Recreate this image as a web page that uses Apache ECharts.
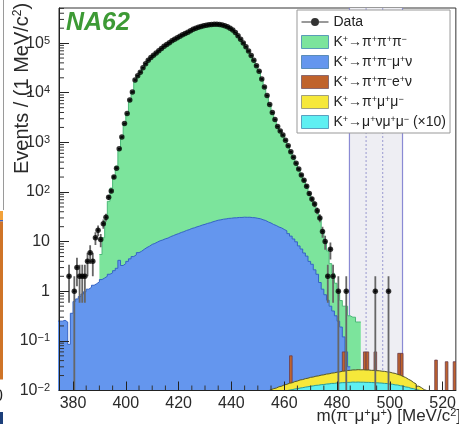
<!DOCTYPE html>
<html><head><meta charset="utf-8">
<script src="https://cdn.jsdelivr.net/npm/echarts@6.0.0/dist/echarts.min.js"></script>
<style>html,body{margin:0;padding:0;background:#fff;overflow:hidden}#c{width:459px;height:436px}</style>
</head><body><div id="c"></div>
<script>
// ---------- data ----------
const xTicks = [380, 400, 420, 440, 460, 480, 500, 520];
const yTicks = [0.01, 0.1, 1, 10, 100, 1000, 10000, 100000];

// K+ -> pi+ pi- mu+ nu (blue), 1 MeV bins starting at 374
const blueStart = 374;
const blueVals = [
  0.25, 0.25, 0.26, 0.24, 0.085, 0.36,                     // 374-379
  0.62, 0.70, 0.78, 0.88, 0.98, 1.10, 1.20, 1.32, 1.42, 1.55, // 380-389
  1.72, 1.85, 2.0, 2.2, 2.35, 2.6, 2.9, 4.2, 3.3, 3.6,       // 390-399
  4.0, 4.5, 5.0, 5.4, 6.0, 6.4, 7.0, 7.6, 8.1, 8.8,          // 400-409
  9.2, 9.8, 10.4, 10.8, 11.4, 11.8, 12.6, 13.2, 13.9, 14.5,  // 410-419
  15.3, 15.9, 16.8, 17.4, 18.4, 19.0, 19.9, 20.6, 21.6, 22.3, // 420-429
  23.3, 24.0, 25.1, 26.0, 27.0, 27.5, 28.3, 28.7, 29.4, 29.6, // 430-439
  30.1, 30.2, 30.7, 30.7, 31.1, 30.9, 31.0, 30.5, 30.3, 29.5, // 440-449
  28.9, 27.6, 26.6, 24.9, 23.7, 22.1, 21.1, 19.7, 18.9, 17.6, // 450-459
  16.5, 14.5, 12.9, 11.3, 9.9, 8.2, 7.1, 5.9, 5.1, 4.0,      // 460-469
  3.5, 2.7, 2.2, 1.5, 1.1, 0.85, 0.66, 0.5, 0.4, 0.32,       // 470-479
  0.25, 0.19, 0.12, 0.06, 0.03                               // 480-484
];

// K+ -> pi+ pi+ pi- (green), bins starting at 390
const greenStart = 390;
const greenVals = [
  5.5, 12, 28, 65, 120, 210, 330, 700, 1250, 2300,                          // 390-399
  3800, 6600, 10300, 16500, 22000, 26500, 32000, 38000, 45000, 51000,       // 400-409
  57000, 63500, 70000, 78000, 86000, 94000, 102000, 111000, 120000, 129000, // 410-419
  138000, 147000, 156000, 166000, 178000, 190000, 200000, 208000, 216000, 223000, // 420-429
  229000, 234000, 238000, 240000, 240000, 237000, 232000, 224000, 213000, 199000, // 430-439
  183000, 163000, 140000, 120000, 101000, 84000, 69000, 56000, 45000, 35000,      // 440-449
  27000, 19000, 13000, 8800, 5800, 4000, 2900, 2100, 1700, 1400,           // 450-459
  1100, 850, 650, 500, 380, 290, 220, 172, 130, 93,                         // 460-469
  72, 57, 42, 30, 17, 10, 6.5, 3.6, 2.3, 1.45,                              // 470-479
  0.95, 0.65, 0.5, 0.5, 0.32, 0.3, 0.3, 0.24, 0.24                          // 480-488
];

// K+ -> pi+ pi- e+ nu (brown) isolated bins
const brownBins = [462, 482, 490, 491, 494, 503, 504, 517, 521, 524];
const brownVals = [0.050, 0.060, 0.060, 0.060, 0.060, 0.056, 0.056, 0.041, 0.038, 0.038];

// K+ -> pi+ mu+ mu- (yellow), bins starting at 453
const yellowStart = 453;
const yellowVals = [
  0.0098, 0.0104, 0.0109, 0.0112, 0.0119, 0.0122, 0.0130,                 // 453-459
  0.0133, 0.0140, 0.0143, 0.0151, 0.0155, 0.0163, 0.0166, 0.0173, 0.0177, 0.0184, // 460-469
  0.0187, 0.0194, 0.0197, 0.0204, 0.0207, 0.0214, 0.0217, 0.0224, 0.0227, 0.0234, // 470-479
  0.0237, 0.0244, 0.0247, 0.0253, 0.0255, 0.0260, 0.0260, 0.0263, 0.0261, 0.0262, // 480-489
  0.0259, 0.0259, 0.0255, 0.0255, 0.0251, 0.0250, 0.0245, 0.0243, 0.0237, 0.0234, // 490-499
  0.0226, 0.0221, 0.0211, 0.0204, 0.0192, 0.0183, 0.0169, 0.0159, 0.0145, 0.0135, // 500-509
  0.0122, 0.0114, 0.0104, 0.0100, 0.0095                                   // 510-514
];

// K+ -> mu+ nu mu+ mu- (x10) (cyan), bins starting at 460
const cyanStart = 460;
const cyanVals = [
  0.0099, 0.0102, 0.0104, 0.0107, 0.0109, 0.0112, 0.0114, 0.0117, 0.0119, 0.0122, // 460-469
  0.0124, 0.0127, 0.0128, 0.0131, 0.0132, 0.0135, 0.0136, 0.0139, 0.0139, 0.0142, // 470-479
  0.0142, 0.0144, 0.0144, 0.0146, 0.0146, 0.0148, 0.0147, 0.0148, 0.0147, 0.0147, // 480-489
  0.0146, 0.0146, 0.0145, 0.0144, 0.0143, 0.0142, 0.0141, 0.0139, 0.0138, 0.0135, // 490-499
  0.0134, 0.0130, 0.0129, 0.0125, 0.0123, 0.0118, 0.0116, 0.0111, 0.0109, 0.0104, // 500-509
  0.0102, 0.0098                                                                   // 510-511
];

// Data counts, bins starting at 376
const dataStart = 376;
const dataCounts = [
  0, 0, 2, 0,                                                   // 376-379
  1, 3, 2, 2, 2, 4, 6, 4, 12, 17,                               // 380-389
  11, 23, 31, 78, 105, 200, 300, 740, 1280, 2400,               // 390-399
  3800, 7100, 10300, 18000, 22000, 26000, 32000, 38500, 45000, 51500, // 400-409
  57000, 63000, 70500, 78000, 86500, 94000, 102000, 111000, 120000, 129000, // 410-419
  138000, 147000, 156000, 166000, 178000, 190000, 200000, 208000, 216000, 223000, // 420-429
  229000, 234000, 238000, 240000, 240000, 237000, 232000, 224000, 213000, 199000, // 430-439
  183000, 163000, 140000, 120000, 101000, 84000, 69000, 56000, 45000, 35000, // 440-449
  27000, 19000, 13000, 8800, 5800, 4000, 2900, 2100, 1700, 1400, // 450-459
  1100, 850, 650, 500, 380, 290, 220, 172, 130, 93,             // 460-469
  72, 57, 42, 30, 16, 10, 2, 7, 2, 0,                           // 470-479
  1, 0, 0, 1, 0, 0, 0, 0, 0, 0,                                 // 480-489
  0, 0, 0, 0, 1, 0, 0, 0, 0, 1                                  // 490-499
];

const signalBand = [484.7, 504.8];
const signalInner = [491.0, 497.3];

const legendNames = ['Data', 'K+→π+π+π−', 'K+→π+π−μ+ν', 'K+→π+π−e+ν', 'K+→π+μ+μ−', 'K+→μ+νμ+μ− (×10)'];
const legendRich = {
  'Data': 'Data',
  'K+→π+π+π−': 'K{s|+}→π{s|+}π{s|+}π{s|−}',
  'K+→π+π−μ+ν': 'K{s|+}→π{s|+}π{s|−}μ{s|+}ν',
  'K+→π+π−e+ν': 'K{s|+}→π{s|+}π{s|−}e{s|+}ν',
  'K+→π+μ+μ−': 'K{s|+}→π{s|+}μ{s|+}μ{s|−}',
  'K+→μ+νμ+μ− (×10)': 'K{s|+}→μ{s|+}νμ{s|+}μ{s|−} (×10)'
};

// ---------- styles ----------
const C_GREEN = '#7ce49c', C_BLUE = '#6496ee', C_BROWN = '#c0632c', C_YELLOW = '#f6e83a', C_CYAN = '#5eeff2';
const X_MIN = 374.7, X_MAX = 525, Y_MIN = 0.01, Y_MAX = 5.1e5;
const FONT = 'Liberation Sans';

function histPoints(start, vals) {
  const pts = []; let prev = null;
  for (let i = 0; i < vals.length; i++) {
    const e = start + i, v = vals[i];
    if (v != null && v > 0) { pts.push([e, v]); prev = v; }
    else if (prev != null) { pts.push([e, prev]); pts.push([e, null]); prev = null; }
  }
  if (prev != null) pts.push([start + vals.length, prev]);
  return pts;
}
function histSeries(name, pts, fill, stroke, z) {
  return {
    name, type: 'line', step: 'end', data: pts, showSymbol: false, symbol: 'none', z, clip: true,
    silent: true, connectNulls: false,
    lineStyle: { color: stroke, width: 1 }, itemStyle: { color: fill },
    areaStyle: { color: fill, opacity: 1, origin: 'start' }
  };
}

const dataPts = [];
dataCounts.forEach((n, i) => { if (n > 0) dataPts.push([dataStart + i + 0.5, n]); });

const supRich = { s: { fontSize: 9, lineHeight: 9, verticalAlign: 'top', fontFamily: FONT, color: '#222' } };

const chart = echarts.init(document.getElementById('c'), null, { renderer: 'canvas' });
chart.setOption({
  animation: false,
  backgroundColor: '#fff',
  grid: { left: 59, top: 8, right: 0, bottom: 45.5, show: true, borderColor: '#333', borderWidth: 1 },
  xAxis: {
    type: 'value', min: X_MIN, max: X_MAX, z: 20,
    axisLine: { show: true, onZero: false, lineStyle: { color: '#222', width: 1 } },
    axisTick: { show: true, inside: true, length: 9, customValues: xTicks, lineStyle: { color: '#222' } },
    axisLabel: { customValues: xTicks, fontSize: 16, color: '#2a2a2a', margin: 5, fontFamily: FONT },
    splitLine: { show: false }
  },
  yAxis: {
    type: 'log', logBase: 10, min: Y_MIN, max: Y_MAX, z: 20,
    axisLine: { show: true, lineStyle: { color: '#222', width: 1 } },
    axisTick: { show: true, inside: true, length: 10, customValues: yTicks, lineStyle: { color: '#222' } },
    axisLabel: {
      customValues: yTicks, margin: 9, color: '#2a2a2a', fontFamily: FONT,
      formatter: function (v) {
        const e = Math.round(Math.log10(v));
        if (e === 0) return '{b|1}';
        if (e === 1) return '{b|10}';
        return '{b|10}{s|' + (e < 0 ? '−' + (-e) : e) + '}';
      },
      rich: {
        b: { fontSize: 16, lineHeight: 16, fontFamily: FONT, color: '#2a2a2a' },
        s: { fontSize: 11, lineHeight: 11, verticalAlign: 'top', fontFamily: FONT, color: '#2a2a2a' }
      }
    },
    splitLine: { show: false }
  },
  legend: {
    left: 297, top: 10, orient: 'vertical', itemWidth: 27, itemHeight: 13, itemGap: 6,
    padding: [5, 4, 4, 4], backgroundColor: '#fff', borderColor: '#999', borderWidth: 1,
    selectedMode: false, z: 30,
    textStyle: { fontSize: 14, color: '#222', fontFamily: FONT, lineHeight: 14, rich: supRich },
    formatter: n => legendRich[n],
    data: [
      { name: legendNames[0], icon: 'path://M0,3.4 L27,3.4 L27,4.6 L0,4.6 Z M9.5,4 A4,4 0 1,1 17.5,4 A4,4 0 1,1 9.5,4 Z', itemStyle: { color: '#000', borderWidth: 0 } },
      { name: legendNames[1], icon: 'rect', itemStyle: { color: C_GREEN, borderColor: '#5a9cb8', borderWidth: 1 } },
      { name: legendNames[2], icon: 'rect', itemStyle: { color: C_BLUE, borderColor: '#5a8cb8', borderWidth: 1 } },
      { name: legendNames[3], icon: 'rect', itemStyle: { color: C_BROWN, borderColor: '#8a6a70', borderWidth: 1 } },
      { name: legendNames[4], icon: 'rect', itemStyle: { color: C_YELLOW, borderColor: '#a0a080', borderWidth: 1 } },
      { name: legendNames[5], icon: 'rect', itemStyle: { color: C_CYAN, borderColor: '#5aa0c0', borderWidth: 1 } }
    ]
  },
  series: [
    { // signal region band
      type: 'custom', z: 1, silent: true, data: [[signalBand[0], 1]],
      renderItem: function (params, api) {
        const a = api.coord([signalBand[0], Y_MAX]), b = api.coord([signalBand[1], Y_MIN]);
        const d1 = api.coord([signalInner[0], Y_MIN]), d2 = api.coord([signalInner[1], Y_MIN]);
        return { type: 'group', children: [
          { type: 'rect', shape: { x: a[0], y: a[1], width: b[0] - a[0], height: b[1] - a[1] }, style: { fill: '#eeeef3' } },
          { type: 'line', shape: { x1: a[0], y1: a[1], x2: a[0], y2: b[1] }, style: { stroke: '#8a8ad4', lineWidth: 1.2 } },
          { type: 'line', shape: { x1: b[0], y1: a[1], x2: b[0], y2: b[1] }, style: { stroke: '#8a8ad4', lineWidth: 1.2 } },
          { type: 'line', shape: { x1: d1[0], y1: a[1], x2: d1[0], y2: b[1] }, style: { stroke: '#9a9ad0', lineWidth: 1, lineDash: [2, 2] } },
          { type: 'line', shape: { x1: d2[0], y1: a[1], x2: d2[0], y2: b[1] }, style: { stroke: '#9a9ad0', lineWidth: 1, lineDash: [2, 2] } }
        ] };
      }
    },
    histSeries(legendNames[1], histPoints(greenStart, greenVals), C_GREEN, '#4cb878', 2),
    histSeries(legendNames[2], histPoints(blueStart, blueVals), C_BLUE, '#3563c4', 3),
    {
      name: legendNames[3], type: 'custom', z: 4, silent: true, clip: true,
      itemStyle: { color: C_BROWN },
      data: brownBins.map((b, i) => [b, brownVals[i]]),
      renderItem: function (params, api) {
        const e = api.value(0), v = api.value(1);
        const p0 = api.coord([e, v]), p1 = api.coord([e + 1, Y_MIN]);
        return { type: 'rect', shape: { x: p0[0], y: p0[1], width: p1[0] - p0[0], height: p1[1] - p0[1] },
          style: { fill: C_BROWN, stroke: '#6a3c4c', lineWidth: 0.8 } };
      }
    },
    histSeries(legendNames[4], histPoints(yellowStart, yellowVals), C_YELLOW, '#55552a', 5),
    histSeries(legendNames[5], histPoints(cyanStart, cyanVals), C_CYAN, '#2a9a9a', 6),
    { // data error bars
      type: 'custom', z: 7, silent: true, clip: true,
      data: dataPts,
      renderItem: function (params, api) {
        const xc = api.value(0), n = api.value(1);
        const err = Math.sqrt(n);
        const lo = Math.max(n - err, Y_MIN), hi = n + err;
        const pLo = api.coord([xc, lo]), pHi = api.coord([xc, hi]);
        const pL = api.coord([xc - 0.5, n]), pR = api.coord([xc + 0.5, n]);
        return { type: 'group', children: [
          { type: 'line', shape: { x1: pLo[0], y1: pLo[1], x2: pHi[0], y2: pHi[1] }, style: { stroke: '#666', lineWidth: 1.8 } },
          { type: 'line', shape: { x1: pL[0], y1: pL[1], x2: pR[0], y2: pR[1] }, style: { stroke: '#111', lineWidth: 1.5 } }
        ] };
      }
    },
    {
      name: legendNames[0], type: 'scatter', z: 8, silent: true, data: dataPts,
      symbol: 'circle', symbolSize: 5.5, itemStyle: { color: '#000' }
    },
    { // minor ticks
      type: 'custom', z: 9, silent: true, clip: false, data: [[400, 1]],
      renderItem: function (params, api) {
        const ch = [];
        for (let d = -2; d <= 5; d++) {
          for (let k = 2; k <= 9; k++) {
            const v = k * Math.pow(10, d);
            if (v >= Y_MAX) continue;
            const p = api.coord([X_MIN, v]);
            ch.push({ type: 'line', shape: { x1: p[0], y1: p[1], x2: p[0] + 5, y2: p[1] }, style: { stroke: '#333', lineWidth: 1 } });
          }
        }
        for (let x = 385; x < X_MAX; x += 5) {
          if (x % 20 === 0) continue;
          const p = api.coord([x, Y_MIN]);
          ch.push({ type: 'line', shape: { x1: p[0], y1: p[1], x2: p[0], y2: p[1] - 5 }, style: { stroke: '#333', lineWidth: 1 } });
        }
        return { type: 'group', children: ch };
      }
    }
  ],
  graphic: [
    { type: 'text', left: 66, top: 11, z: 50,
      style: { text: 'NA62', fontSize: 25, fontWeight: 'bold', fontStyle: 'italic', fontFamily: FONT, fill: '#3d9a35' } },
    { type: 'text', x: 22, y: 174, rotation: Math.PI / 2, z: 50,
      style: { text: 'Events / (1 MeV/c{s|2})', fontSize: 20, fontFamily: FONT, fill: '#2a2a2a', align: 'left', verticalAlign: 'middle',
        rich: { s: { fontSize: 12, verticalAlign: 'top', lineHeight: 12, fontFamily: FONT, fill: '#2a2a2a' } } } },
    { type: 'text', x: 461, y: 416, z: 50,
      style: { text: 'm(π{s|−}μ{s|+}μ{s|+}) [MeV/c{s|2}]', fontSize: 17, fontFamily: FONT, fill: '#2a2a2a', align: 'right', verticalAlign: 'middle',
        rich: { s: { fontSize: 11, verticalAlign: 'top', lineHeight: 11, fontFamily: FONT, fill: '#2a2a2a' } } } },
    // edge of neighbouring slide content
    { type: 'line', z: 50, shape: { x1: 3.5, y1: 0, x2: 3.5, y2: 210 }, style: { stroke: '#9a9a9a', lineWidth: 1 } },
    { type: 'rect', z: 50, shape: { x: 0, y: 211, width: 3, height: 9 }, style: { fill: '#f2a13a' } },
    { type: 'rect', z: 50, shape: { x: 0, y: 220, width: 3, height: 1.5 }, style: { fill: '#3a5fc0' } },
    { type: 'rect', z: 50, shape: { x: 0, y: 221.5, width: 3, height: 158 }, style: { fill: '#cf7428' } },
    { type: 'text', x: -6, y: 397, z: 50, style: { text: '0', fontSize: 16, fontFamily: FONT, fill: '#222', verticalAlign: 'middle' } },
    { type: 'rect', z: 50, shape: { x: 0, y: 412, width: 3, height: 12 }, style: { fill: '#1c3f7a' } }
  ]
});
</script>
</body></html>
